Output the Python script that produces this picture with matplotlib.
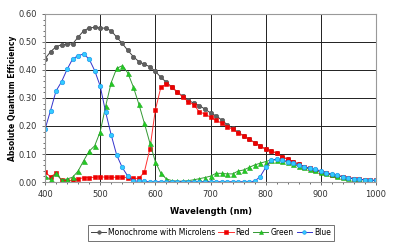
import matplotlib
matplotlib.use("Agg")
import matplotlib.pyplot as plt
from matplotlib.ticker import MultipleLocator, FormatStrFormatter

# wavelength grid (nm), 10 nm steps
wavelength = list(range(400, 1001, 10))

mono = [0.440, 0.465, 0.483, 0.490, 0.492, 0.493, 0.517, 0.540, 0.550, 0.552,
        0.550, 0.549, 0.540, 0.517, 0.495, 0.470, 0.448, 0.430, 0.420, 0.412,
        0.395, 0.374, 0.356, 0.339, 0.320, 0.307, 0.292, 0.281, 0.273, 0.260,
        0.247, 0.236, 0.222, 0.205, 0.192, 0.178, 0.165, 0.153, 0.141, 0.129,
        0.117, 0.112, 0.102, 0.090, 0.081, 0.073, 0.063, 0.055, 0.049, 0.043,
        0.037, 0.031, 0.025, 0.021, 0.019, 0.015, 0.012, 0.010, 0.008, 0.006,
        0.006]
red = [0.035, 0.019, 0.031, 0.007, 0.005, 0.006, 0.010, 0.016, 0.016, 0.017,
       0.019, 0.017, 0.017, 0.017, 0.017, 0.016, 0.013, 0.013, 0.035, 0.117,
       0.257, 0.338, 0.350, 0.338, 0.322, 0.302, 0.287, 0.275, 0.250, 0.243,
       0.231, 0.221, 0.210, 0.198, 0.188, 0.176, 0.164, 0.152, 0.140, 0.129,
       0.117, 0.112, 0.102, 0.090, 0.081, 0.073, 0.063, 0.055, 0.049, 0.043,
       0.037, 0.031, 0.025, 0.021, 0.019, 0.014, 0.012, 0.010, 0.008, 0.006,
       0.006]
green = [0.020, 0.010, 0.031, 0.007, 0.011, 0.017, 0.039, 0.076, 0.110, 0.129,
         0.179, 0.271, 0.355, 0.406, 0.415, 0.390, 0.340, 0.279, 0.211, 0.140,
         0.073, 0.031, 0.011, 0.005, 0.003, 0.003, 0.005, 0.008, 0.012, 0.016,
         0.021, 0.031, 0.031, 0.029, 0.029, 0.039, 0.043, 0.052, 0.061, 0.067,
         0.073, 0.079, 0.079, 0.076, 0.070, 0.063, 0.057, 0.052, 0.046, 0.042,
         0.037, 0.031, 0.027, 0.022, 0.018, 0.014, 0.011, 0.009, 0.007, 0.005,
         0.005]
blue = [0.188, 0.255, 0.325, 0.358, 0.402, 0.439, 0.451, 0.457, 0.439, 0.398,
        0.343, 0.249, 0.168, 0.096, 0.052, 0.021, 0.005, 0.002, 0.002, 0.001,
        0.001, 0.001, 0.001, 0.001, 0.001, 0.001, 0.001, 0.001, 0.001, 0.001,
        0.001, 0.001, 0.001, 0.001, 0.001, 0.001, 0.001, 0.001, 0.003, 0.019,
        0.052, 0.079, 0.081, 0.079, 0.073, 0.067, 0.061, 0.055, 0.049, 0.045,
        0.040, 0.033, 0.029, 0.024, 0.019, 0.015, 0.012, 0.010, 0.008, 0.006,
        0.006]

fig = plt.figure(figsize=(4.0, 2.49), dpi=100)
ax = fig.add_axes([0.1125, 0.269, 0.8275, 0.675])

ms = 3.2
ax.plot(wavelength, mono, color="#404040", lw=0.7, marker="o", ms=ms,
        mfc="#606060", mec="#505050", mew=0.4, label="Monochrome with Microlens")
ax.plot(wavelength, red, color="#ff3030", lw=0.7, marker="s", ms=ms,
        mfc="#ee0000", mec="#ee0000", mew=0.4, label="Red")
ax.plot(wavelength, green, color="#339933", lw=0.7, marker="^", ms=ms + 0.4,
        mfc="#22cc22", mec="#22aa22", mew=0.4, label="Green")
ax.plot(wavelength, blue, color="#3333cc", lw=0.7, marker="o", ms=ms,
        mfc="#33ccff", mec="#2299ee", mew=0.5, label="Blue")

ax.set_xlim(400, 1000)
ax.set_ylim(0, 0.6)
ax.xaxis.set_major_locator(MultipleLocator(100))
ax.xaxis.set_minor_locator(MultipleLocator(20))
ax.yaxis.set_major_locator(MultipleLocator(0.1))
ax.yaxis.set_minor_locator(MultipleLocator(0.02))
ax.yaxis.set_major_formatter(FormatStrFormatter("%.2f"))
ax.grid(True, which="major", color="#202020", lw=0.7)
ax.set_axisbelow(True)
for s in ax.spines.values():
    s.set_color("#999999")
    s.set_linewidth(0.8)
ax.tick_params(which="both", direction="out", labelsize=6, colors="#333333", length=2, width=0.5)
ax.tick_params(which="minor", length=1.5)

ax.set_xlabel("Wavelength (nm)", fontsize=6, fontweight="bold", labelpad=6)
ax.set_ylabel("Absolute Quantum Efficiency", fontsize=5.5, fontweight="bold", labelpad=1)

leg = fig.legend(loc="center", bbox_to_anchor=(0.527, 0.066), ncol=4, fontsize=5.5,
                 frameon=True, fancybox=False, handlelength=2.0, columnspacing=0.4,
                 handletextpad=0.25, borderpad=0.45, markerscale=0.8)
leg.get_frame().set_edgecolor("#333333")
leg.get_frame().set_linewidth(0.6)

fig.savefig("out.png", dpi=100)
